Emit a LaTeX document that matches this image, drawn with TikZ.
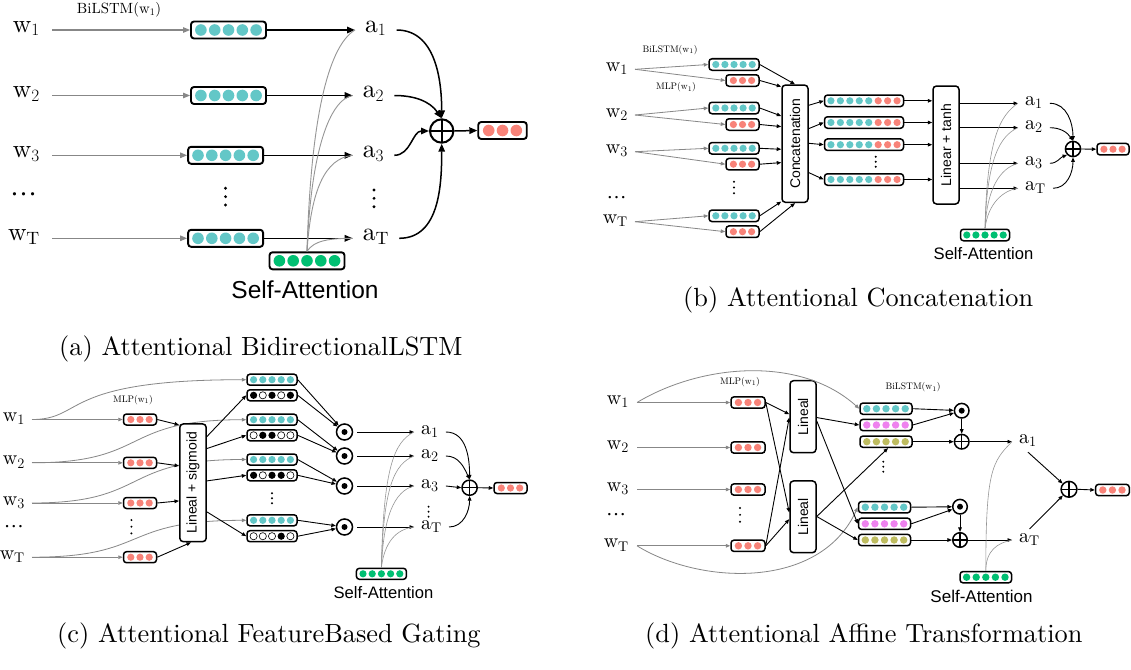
\documentclass[tikz,border=0pt]{standalone}
\usepackage{fontspec}
\setmainfont{lmroman10-regular.otf}[BoldFont=lmroman10-bold.otf, ItalicFont=lmroman10-italic.otf]
\newfontfamily\sansf{Liberation Sans}
\newfontfamily\timesf{Liberation Serif}
\usetikzlibrary{arrows.meta,calc}

\definecolor{cTeal}{RGB}{99,199,199}
\definecolor{cSalmon}{RGB}{248,131,121}
\definecolor{cGreen}{RGB}{0,191,114}
\definecolor{cViolet}{RGB}{238,130,238}
\definecolor{cOlive}{RGB}{190,188,96}
\definecolor{cLine}{RGB}{135,135,135}
\definecolor{cCurve}{RGB}{150,150,150}

% pitch, dot radius, bar height, border width of the vector bars
\newcommand\vecsize[4]{\def\vpitch{#1}\def\vrad{#2}\def\vht{#3}\def\vlw{#4}}
% a rounded bar holding a row of coloured units: name, centre, width, unit styles
\newcommand\vecbar[4]{%
  \node[vbar, minimum width=#3pt] (#1) at (#2) {};
  \foreach \dd [count=\k] in {#4} {\xdef\vecn{\k}}
  \foreach \dd [count=\k] in {#4} {
    \path[\dd] ($(#1.center)+({(\k-(\vecn+1)/2)*\vpitch},0)$) circle[radius=\vrad pt];
  }%
}
% three stacked dots: x, first y, step, radius
\newcommand\vdotsat[4]{\foreach \j in {0,1,2} {\fill (#1,{#2+\j*#3}) circle[radius=#4pt];}}

\tikzset{
  vbar/.style={draw, fill=white, rounded corners=3pt, inner sep=0pt, line width=\vlw pt, minimum height=\vht pt},
  dT/.style={fill=cTeal}, dR/.style={fill=cSalmon}, dG/.style={fill=cGreen},
  dV/.style={fill=cViolet}, dO/.style={fill=cOlive}, dK/.style={fill=black},
  dW/.style={draw=black, fill=white, line width=0.6pt},
  rbox/.style={draw, fill=white, rounded corners=3.5pt, line width=1.5pt, inner sep=0pt,
    font=\sansf\fontsize{14}{17}\selectfont},
  labB/.style={font=\fontsize{25.5}{30}\selectfont, inner ysep=0pt},
  labS/.style={font=\fontsize{20}{24}\selectfont, inner ysep=0pt},
  capt/.style={font=\fontsize{26.3}{31}\selectfont, inner sep=0pt},
  sansB/.style={font=\sansf\fontsize{24.5}{29}\selectfont, inner sep=0pt},
  sansS/.style={font=\sansf\fontsize{16.6}{20}\selectfont, inner sep=0pt},
  smalllab/.style={font=\fontsize{9.5}{11}\selectfont, inner sep=0pt},
  ga/.style={draw=cLine, line width=0.8pt, -{Triangle[length=4.5pt,width=3.6pt]}},
  ba/.style={draw=black, line width=0.9pt, -{Triangle[length=4.5pt,width=3.6pt]}},
  gc/.style={draw=cCurve, line width=0.6pt},
  gaB/.style={draw=cLine, line width=1.2pt, -{Triangle[length=7pt,width=5.5pt]}},
  baB/.style={draw=black, line width=1.5pt, -{Triangle[length=8pt,width=6.5pt]}},
  gcB/.style={draw=cCurve, line width=0.9pt},
  oplus/.style={circle, draw, fill=white, inner sep=0pt, line width=1.5pt, minimum size=#1,
    path picture={\draw[black, line width=1.5pt] (path picture bounding box.north) -- (path picture bounding box.south)
      (path picture bounding box.west) -- (path picture bounding box.east);}},
  oplusB/.style={circle, draw, fill=white, inner sep=0pt, line width=2pt, minimum size=#1,
    path picture={\draw[black, line width=2pt] (path picture bounding box.north) -- (path picture bounding box.south)
      (path picture bounding box.west) -- (path picture bounding box.east);}},
  odot/.style={circle, draw, fill=white, inner sep=0pt, line width=1.5pt, minimum size=#1,
    path picture={\fill[black] (path picture bounding box.center) circle[radius=3pt];}},
}

\begin{document}
\begin{tikzpicture}[x=1pt, y=-1pt]
\path[use as bounding box, fill=white] (0,0) rectangle (1131,669);

%% ---------------- (a) attentional BiLSTM ----------------
\vecsize{13.8}{5.8}{17}{1.9}
\node[labB, anchor=mid east, inner xsep=12pt] (aw1) at (52,30) {$\mathrm{w}_1$};
\node[labB, anchor=mid east, inner xsep=12pt] (aw2) at (52,95.5) {$\mathrm{w}_2$};
\node[labB, anchor=mid east, inner xsep=12pt] (aw3) at (52,155.3) {$\mathrm{w}_3$};
\node[labB, anchor=mid east, inner xsep=12pt] (awT) at (52,238.3) {$\mathrm{w}_\mathrm{T}$};
\node[font=\timesf\fontsize{27}{32}\selectfont, inner sep=0pt] (adots) at (23.5,194) {…};
\node[font=\fontsize{14.8}{17}\selectfont, inner sep=0pt] (abl) at (119,9.5) {BiLSTM($\mathrm{w}_1$)};

\vecbar{ah1}{228.5,30}{75}{dT,dT,dT,dT,dT}
\vecbar{ah2}{228.5,95.5}{75}{dT,dT,dT,dT,dT}
\vecbar{ah3}{225.6,155.3}{75}{dT,dT,dT,dT,dT}
\vecbar{ahT}{225.6,238.3}{75}{dT,dT,dT,dT,dT}
\vdotsat{225.5}{188.3}{8.35}{1.6}

\node[labB, anchor=mid west, inner xsep=10pt] (aa1) at (355,30) {$\mathrm{a}_1$};
\node[labB, anchor=mid west, inner xsep=10pt] (aa2) at (352.7,95.5) {$\mathrm{a}_2$};
\node[labB, anchor=mid west, inner xsep=10pt] (aa3) at (352.7,155.3) {$\mathrm{a}_3$};
\node[labB, anchor=mid west, inner xsep=10pt] (aaT) at (352.7,238.3) {$\mathrm{a}_\mathrm{T}$};
\vdotsat{374}{190}{8.35}{1.6}

\foreach \i in {1,2,3,T} {
  \draw[gaB] (aw\i.mid east) -- (ah\i.west);
  \draw[baB] (ah\i.east) -- (aa\i.mid west);
}

\vecbar{asa}{307,260.8}{75}{dG,dG,dG,dG,dG}
\node[sansB] (asat) at (305,290) {Self-Attention};
\draw[gcB] (asa.north) .. controls +(4,-141) and +(-25,15) .. (aa1.mid west);
\draw[gcB] (asa.north) .. controls +(4,-101) and +(-23,4) .. (aa2.mid west);
\draw[gcB] (asa.north) .. controls +(4,-61) and +(-28,3) .. (aa3.mid west);
\draw[gcB] (asa.north) .. controls +(7,-11) and +(-23,0) .. (aaT.mid west);

\node[oplusB=23.4pt] (ap) at (441.7,131) {};
\vecbar{aout}{502.5,130.5}{48.5}{dR,dR,dR}
\draw[baB] (aa1.mid east) to[out=0,in=90] (ap.north);
\draw[baB] (aa2.mid east) to[out=0,in=125] (ap.north);
\draw[baB] (aa3.mid east) to[out=0,in=180] (ap.west);
\draw[baB] (aaT.mid east) to[out=0,in=-90] (ap.south);
\draw[baB] (ap.east) -- (aout.west);

\node[capt, anchor=west] (capa) at (59,349) {(a) Attentional BidirectionalLSTM};

%% ---------------- (b) attentional concatenation ----------------
\vecsize{9.1}{3.6}{11.5}{1.5}
\node[labS, anchor=mid east, inner xsep=7pt] (bw1) at (635,69.3) {$\mathrm{w}_1$};
\node[labS, anchor=mid east, inner xsep=7pt] (bw2) at (635,115) {$\mathrm{w}_2$};
\node[labS, anchor=mid east, inner xsep=7pt] (bw3) at (635,151.7) {$\mathrm{w}_3$};
\node[labS, anchor=mid east, inner xsep=7pt] (bwT) at (635,221.7) {$\mathrm{w}_\mathrm{T}$};
\node[font=\timesf\fontsize{20}{24}\selectfont, inner sep=0pt] (bdots) at (616.5,197.3) {…};
\node[smalllab] (bbl) at (670,50) {BiLSTM($\mathrm{w}_1$)};
\node[smalllab] (bml) at (676,87.3) {MLP($\mathrm{w}_1$)};

\vecbar{bh1}{734,64.5}{50}{dT,dT,dT,dT,dT}
\vecbar{bh2}{734,108}{50}{dT,dT,dT,dT,dT}
\vecbar{bh3}{734,148.3}{50}{dT,dT,dT,dT,dT}
\vecbar{bhT}{734,215.8}{50}{dT,dT,dT,dT,dT}
\vecbar{bm1}{742.5,80.5}{33}{dR,dR,dR}
\vecbar{bm2}{742.5,124.5}{33}{dR,dR,dR}
\vecbar{bm3}{742.5,164.2}{33}{dR,dR,dR}
\vecbar{bmT}{742.5,231.7}{33}{dR,dR,dR}
\vdotsat{734}{181.7}{5.8}{1.1}
\foreach \i in {1,2,3,T} {
  \draw[ga] (bw\i.mid east) -- (bh\i.west);
  \draw[ga] (bw\i.mid east) -- (bm\i.west);
}

\node[rbox, minimum width=26pt, minimum height=117.3pt] (bcc) at (795,143.7) {\rotatebox{90}{Concatenation}};
\draw[ba] (bh1.east) -- (bcc.north);
\draw[ba] (bm1.east) -- ($(bcc.north west)+(0,2.3)$);
\draw[ba] (bh2.east) -- ($(bcc.north west)+(0,31.7)$);
\draw[ba] (bm2.east) -- ($(bcc.north west)+(0,42.3)$);
\draw[ba] (bh3.east) -- ($(bcc.north west)+(0,65)$);
\draw[ba] (bm3.east) -- ($(bcc.north west)+(0,78.3)$);
\draw[ba] (bhT.east) -- ($(bcc.south west)+(0,-1.5)$);
\draw[ba] (bmT.east) -- (bcc.south);

\vecsize{9.45}{3.6}{11.5}{1.5}
\vecbar{bc1}{864,100.8}{79}{dT,dT,dT,dT,dT,dR,dR,dR}
\vecbar{bc2}{864,122.5}{79}{dT,dT,dT,dT,dT,dR,dR,dR}
\vecbar{bc3}{864,144.7}{79}{dT,dT,dT,dT,dT,dR,dR,dR}
\vecbar{bc4}{864,179.5}{79}{dT,dT,dT,dT,dT,dR,dR,dR}
\vdotsat{875.7}{156.7}{5}{1.1}
\draw[ba] ($(bcc.north east)+(0,21)$) -- (bc1.west);
\draw[ba] ($(bcc.north east)+(0,44.3)$) -- (bc2.west);
\draw[ba] ($(bcc.north east)+(0,59)$) -- (bc3.west);
\draw[ba] ($(bcc.north east)+(0,88.3)$) -- (bc4.west);

\node[rbox, minimum width=26pt, minimum height=118pt] (blt) at (946,145) {\rotatebox{90}{Linear + tanh}};
\foreach \i in {1,2,3,4} {\draw[ba] (bc\i.east) -- (blt.west |- bc\i.east);}

\node[labS, anchor=mid west, inner xsep=7pt] (ba1) at (1018,103.3) {$\mathrm{a}_1$};
\node[labS, anchor=mid west, inner xsep=7pt] (ba2) at (1018,127.7) {$\mathrm{a}_2$};
\node[labS, anchor=mid west, inner xsep=7pt] (ba3) at (1018,163.3) {$\mathrm{a}_3$};
\node[labS, anchor=mid west, inner xsep=7pt] (baT) at (1018,188.3) {$\mathrm{a}_\mathrm{T}$};
\foreach \i in {1,2,3,T} {\draw[ba] (blt.east |- ba\i.mid west) -- (ba\i.mid west);}

\vecsize{9.1}{3.6}{11.5}{1.5}
\vecbar{bsa}{985,235}{49}{dG,dG,dG,dG,dG}
\node[sansS] (bsat) at (983.5,253.3) {Self-Attention};
\draw[gc] (bsa.north) .. controls +(2,-90) and +(-18,12) .. (ba1.mid west);
\draw[gc] (bsa.north) .. controls +(2,-70) and +(-18,8) .. (ba2.mid west);
\draw[gc] (bsa.north) .. controls +(2,-40) and +(-18,5) .. (ba3.mid west);
\draw[gc] (bsa.north) .. controls +(3,-25) and +(-15,2) .. (baT.mid west);

\node[oplus=15.2pt] (bp) at (1073,149) {};
\vecbar{bout}{1113,149.2}{32}{dR,dR,dR}
\draw[ba] (ba1.mid east) to[out=0,in=90] (bp.north);
\draw[ba] (ba2.mid east) to[out=0,in=125] (bp.north);
\draw[ba] (ba3.mid east) to[out=0,in=200] (bp.south west);
\draw[ba] (baT.mid east) to[out=0,in=-90] (bp.south);
\draw[ba] (bp.east) -- (bout.west);

\node[capt, anchor=west] (capb) at (683,300) {(b) Attentional Concatenation};

%% ---------------- (c) feature-based gating ----------------
\vecsize{9.2}{3.6}{11}{1.5}
\node[labS, anchor=mid east, inner xsep=7pt] (cw1) at (32,419.5) {$\mathrm{w}_1$};
\node[labS, anchor=mid east, inner xsep=7pt] (cw2) at (32,462.8) {$\mathrm{w}_2$};
\node[labS, anchor=mid east, inner xsep=7pt] (cw3) at (32,503) {$\mathrm{w}_3$};
\node[labS, anchor=mid east, inner xsep=7pt] (cwT) at (32,557.2) {$\mathrm{w}_\mathrm{T}$};
\node[font=\timesf\fontsize{20}{24}\selectfont, inner sep=0pt] (cdots) at (14,527) {…};
\node[smalllab] (cml) at (133,400) {MLP($\mathrm{w}_1$)};

\vecbar{cm1}{140,419.5}{33}{dR,dR,dR}
\vecbar{cm2}{140,462.8}{33}{dR,dR,dR}
\vecbar{cm3}{140,503}{33}{dR,dR,dR}
\vecbar{cmT}{140,557.2}{33}{dR,dR,dR}
\vdotsat{131.4}{520}{6.7}{1.1}

\vecbar{ch1}{272,379.7}{50}{dT,dT,dT,dT,dT}
\vecbar{ch2}{272,419.7}{50}{dT,dT,dT,dT,dT}
\vecbar{ch3}{272,459.5}{50}{dT,dT,dT,dT,dT}
\vecbar{chT}{272,520.3}{50}{dT,dT,dT,dT,dT}
\vecbar{cg1}{272,395.3}{50}{dK,dW,dK,dW,dK}
\vecbar{cg2}{272,435.3}{50}{dW,dK,dK,dW,dW}
\vecbar{cg3}{272,475.3}{50}{dK,dW,dK,dK,dW}
\vecbar{cgT}{272,536.2}{50}{dW,dW,dW,dK,dW}
\vdotsat{272}{493.3}{5}{1.1}

\foreach \i in {1,2,3,T} {\draw[ga] (cw\i.mid east) -- (cm\i.west);}
\draw[ga] (cw1.mid east) .. controls +(53,0) and +(-187,0) .. (ch1.west);
\draw[ga] (cw2.mid east) .. controls +(118,0) and +(-127,0) .. (ch2.west);
\draw[ga] (cw3.mid east) .. controls +(118,0) and +(-127,0) .. (ch3.west);
\draw[ga] (cwT.mid east) .. controls +(118,0) and +(-127,0) .. (chT.west);

\node[rbox, minimum width=26.4pt, minimum height=117.7pt] (cls) at (193,482.8) {\rotatebox{90}{Lineal + sigmoid}};
\draw[ba] (cm1.east) -- ($(cls.north west)+(0,1.7)$);
\draw[ba] (cm2.east) -- ($(cls.north west)+(0,42.7)$);
\draw[ba] (cm3.east) -- ($(cls.north west)+(0,77.7)$);
\draw[ba] (cmT.east) -- ($(cls.south)+(-2,0)$);
\draw[ba] ($(cls.north east)+(0,13.3)$) -- (cg1.west);
\draw[ba] ($(cls.north east)+(0,25.3)$) -- (cg2.west);
\draw[ba] ($(cls.north east)+(0,57.7)$) -- (cg3.west);
\draw[ba] ($(cls.north east)+(0,88.7)$) -- (cgT.west);

\node[odot=16pt] (cd1) at (344.5,432) {};
\node[odot=16pt] (cd2) at (344.5,456) {};
\node[odot=16pt] (cd3) at (344.5,486) {};
\node[odot=16pt] (cdT) at (344.5,527) {};
\node[labS, anchor=mid west, inner xsep=7pt] (ca1) at (414,432) {$\mathrm{a}_1$};
\node[labS, anchor=mid west, inner xsep=7pt] (ca2) at (414,456) {$\mathrm{a}_2$};
\node[labS, anchor=mid west, inner xsep=7pt] (ca3) at (414,486) {$\mathrm{a}_3$};
\node[labS, anchor=mid west, inner xsep=7pt] (caT) at (414,527) {$\mathrm{a}_\mathrm{T}$};
\vdotsat{428.6}{506.7}{5}{1.1}
\foreach \i in {1,2,3,T} {
  \draw[ba] (ch\i.east) -- (cd\i);
  \draw[ba] (cg\i.east) -- (cd\i);
  \draw[ba] ([xshift=4pt]cd\i.east) -- (ca\i.mid west);
}

\vecbar{csa}{381.4,573.8}{50}{dG,dG,dG,dG,dG}
\node[sansS] (csat) at (383.5,592.7) {Self-Attention};
\draw[gc] (csa.north) .. controls +(2,-100) and +(-20,10) .. (ca1.mid west);
\draw[gc] (csa.north) .. controls +(2,-80) and +(-20,8) .. (ca2.mid west);
\draw[gc] (csa.north) .. controls +(2,-50) and +(-20,5) .. (ca3.mid west);
\draw[gc] (csa.north) .. controls +(3,-25) and +(-18,2) .. (caT.mid west);

\node[oplus=15.2pt] (cp) at (469.6,487.7) {};
\vecbar{cout}{510.5,488}{33}{dR,dR,dR}
\draw[ba] (ca1.mid east) to[out=0,in=90] (cp.north);
\draw[ba] (ca2.mid east) to[out=0,in=115] (cp.north);
\draw[ba] (ca3.mid east) -- (cp.west);
\draw[ba] (caT.mid east) to[out=0,in=-90] (cp.south);
\draw[ba] (cp.east) -- (cout.west);

\node[capt, anchor=west] (capc) at (57,636) {(c) Attentional FeatureBased Gating};

%% ---------------- (d) affine transformation ----------------
\vecsize{9.6}{3.7}{11.3}{1.5}
\node[labS, anchor=mid east, inner xsep=8pt] (dw1) at (637,402.5) {$\mathrm{w}_1$};
\node[labS, anchor=mid east, inner xsep=8pt] (dw2) at (637,447.5) {$\mathrm{w}_2$};
\node[labS, anchor=mid east, inner xsep=8pt] (dw3) at (637,489.5) {$\mathrm{w}_3$};
\node[labS, anchor=mid east, inner xsep=8pt] (dwT) at (637,545.8) {$\mathrm{w}_\mathrm{T}$};
\node[font=\timesf\fontsize{20}{24}\selectfont, inner sep=0pt] (ddots) at (616,515) {…};
\node[smalllab] (dml) at (740,381.7) {MLP($\mathrm{w}_1$)};
\node[smalllab] (dbl) at (913,387.3) {BiLSTM($\mathrm{w}_1$)};

\vecbar{dm1}{748,402.5}{34}{dR,dR,dR}
\vecbar{dm2}{748,447.5}{34}{dR,dR,dR}
\vecbar{dm3}{748,489.5}{34}{dR,dR,dR}
\vecbar{dmT}{748,545.8}{34}{dR,dR,dR}
\vdotsat{740}{508}{6.85}{1.1}
\foreach \i in {1,2,3,T} {\draw[ga] (dw\i.mid east) -- (dm\i.west);}

\node[rbox, minimum width=26pt, minimum height=72pt] (dl1) at (803,416.7) {\rotatebox{90}{Lineal}};
\node[rbox, minimum width=26pt, minimum height=71.7pt] (dl2) at (803,516.8) {\rotatebox{90}{Lineal}};
\draw[ba] (dm1.east) -- ($(dl1.north west)+(0,34.3)$);
\draw[ba] (dm1.east) -- ($(dl2.north west)+(0,32.3)$);
\draw[ba] (dmT.east) -- ($(dl1.north west)+(0,37.6)$);
\draw[ba] (dmT.east) -- ($(dl2.north west)+(0,39)$);

\vecbar{dh1}{886,408.7}{52}{dT,dT,dT,dT,dT}
\vecbar{dv1}{886,425}{52}{dV,dV,dV,dV,dV}
\vecbar{do1}{886,441.7}{52}{dO,dO,dO,dO,dO}
\vecbar{dh2}{884.5,507.2}{52}{dT,dT,dT,dT,dT}
\vecbar{dv2}{884.5,523.8}{52}{dV,dV,dV,dV,dV}
\vecbar{do2}{884.5,540}{52}{dO,dO,dO,dO,dO}
\vdotsat{883.3}{461.7}{5}{1.1}

\draw[ga] (dw1.mid east) .. controls +(63,-38) and +(-60,-54) .. (dh1.west);
\draw[ga] (dwT.mid east) .. controls +(63,39) and +(-38,83) .. (dh2.west);

\draw[ba] ($(dl1.north east)+(0,37.6)$) -- (dv1.west);
\draw[ba] ($(dl1.north east)+(0,41)$) -- (dv2.west);
\draw[ba] ($(dl2.north east)+(0,36.3)$) -- ($(do1.south)+(2,0)$);
\draw[ba] ($(dl2.north east)+(0,36.3)$) -- (do2.west);

\node[odot=14.6pt] (dd1) at (961.7,410.7) {};
\node[oplus=14.6pt] (dq1) at (961.7,441.7) {};
\node[odot=14.6pt] (dd2) at (960,506.7) {};
\node[oplus=14.6pt] (dq2) at (960,540) {};
\draw[ba] (dh1.east) -- (dd1);
\draw[ba] (dv1.east) -- (dd1);
\draw[ba] (do1.east) -- (dq1.west);
\draw[ba] (dd1.south) -- (dq1.north);
\draw[ba] (dh2.east) -- (dd2);
\draw[ba] (dv2.east) -- (dd2);
\draw[ba] (do2.east) -- (dq2.west);
\draw[ba] (dd2.south) -- (dq2.north);

\node[labS, anchor=mid west, inner xsep=7pt] (da1) at (1012,441.7) {$\mathrm{a}_1$};
\node[labS, anchor=mid west, inner xsep=7pt] (daT) at (1012,540) {$\mathrm{a}_\mathrm{T}$};
\draw[ba] (dq1.east) -- (da1.mid west);
\draw[ba] (dq2.east) -- (daT.mid west);

\vecbar{dsa}{985.8,577.2}{51.5}{dG,dG,dG,dG,dG}
\node[font=\sansf\fontsize{17}{20}\selectfont, inner sep=0pt] (dsat) at (981.5,596) {Self-Attention};
\draw[gc] (dsa.north) .. controls +(0,-100) and +(-20,20) .. (da1.mid west);
\draw[gc] (dsa.north) .. controls +(0,-20) and +(-15,3) .. (daT.mid west);

\node[oplus=15.8pt] (dp) at (1069,489.3) {};
\vecbar{dout}{1112.4,490}{33.7}{dR,dR,dR}
\draw[ba] ([yshift=-5pt]da1.south) -- (dp);
\draw[ba] ([yshift=4pt]daT.north) -- (dp);
\draw[ba] (dp.east) -- (dout.west);

\node[capt, anchor=west] (capd) at (645,636) {(d) Attentional Affine Transformation};

\end{tikzpicture}
\end{document}
